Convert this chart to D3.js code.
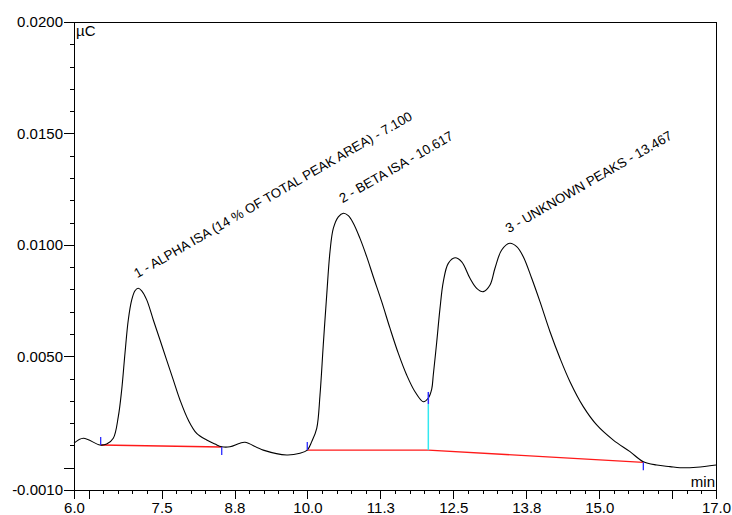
<!DOCTYPE html>
<html>
<head>
<meta charset="utf-8">
<script src="https://cdn.jsdelivr.net/npm/d3@7"></script>
<style>
  html, body { margin: 0; padding: 0; background: #fff; }
  svg { display: block; font-family: "Liberation Sans", Arial, sans-serif; }
</style>
</head>
<body>
<svg id="chart" width="732" height="515"></svg>
<script>
// Chromatogram trace: retention time (min) and detector signal (µC)
const traceTime = [6.000, 6.159, 6.445, 6.560, 6.673, 6.759, 6.817, 6.874, 6.930, 6.989, 7.045, 7.100,
  7.160, 7.246, 7.359, 7.474, 7.588, 7.701, 7.816, 7.958, 8.102, 8.274, 8.416, 8.531, 8.673, 8.844,
  8.930, 9.243, 9.644, 9.872, 9.997, 10.073, 10.159, 10.215, 10.271, 10.330, 10.386, 10.443, 10.529,
  10.617, 10.700, 10.786, 10.900, 11.015, 11.128, 11.272, 11.414, 11.557, 11.700, 11.843, 11.985,
  12.071, 12.129, 12.156, 12.215, 12.271, 12.328, 12.413, 12.528, 12.643, 12.785, 12.900, 13.013,
  13.128, 13.213, 13.328, 13.467, 13.585, 13.698, 13.842, 13.984, 14.156, 14.327, 14.498, 14.726,
  14.956, 15.241, 15.527, 15.755, 15.984, 16.212, 16.383, 16.669, 17.000];
const traceSignal = [0.00110, 0.00132, 0.00102, 0.00106, 0.00132, 0.00229, 0.00349, 0.00515, 0.00663,
  0.00753, 0.00794, 0.00805, 0.00794, 0.00753, 0.00663, 0.00573, 0.00483, 0.00394, 0.00304, 0.00214,
  0.00154, 0.00124, 0.00106, 0.00094, 0.00094, 0.00110, 0.00114, 0.00079, 0.00057, 0.00065, 0.00079,
  0.00117, 0.00177, 0.00326, 0.00551, 0.00775, 0.00969, 0.01074, 0.01126, 0.01142, 0.01131, 0.01097,
  0.01029, 0.00947, 0.00857, 0.00745, 0.00626, 0.00513, 0.00416, 0.00341, 0.00296, 0.00313, 0.00353,
  0.00416, 0.00564, 0.00715, 0.00835, 0.00917, 0.00942, 0.00924, 0.00850, 0.00805, 0.00790, 0.00820,
  0.00895, 0.00977, 0.01007, 0.00992, 0.00947, 0.00850, 0.00745, 0.00610, 0.00491, 0.00386, 0.00274,
  0.00192, 0.00124, 0.00072, 0.00027, 0.00012, 0.00005, 0.00000, 0.00002, 0.00012];

// Integration baselines (each a polyline of [time, signal])
const baselines = [
  [[6.457, 0.00102], [8.531, 0.00093]],
  [[9.997, 0.00079], [12.071, 0.00079], [15.755, 0.00024]]
];
// Peak start/end markers: time, signal, direction (1 = up, -1 = down)
const markerTime = [6.457, 8.531, 9.997, 15.755];
const markerSignal = [0.00102, 0.00093, 0.00079, 0.00024];
const markerDir = [1, -1, 1, -1];
// Valley drop between peak 2 and peak 3
const dropTime = 12.071;
const dropTop = 0.00313;
const dropBottom = 0.00079;

// Peak annotations
const peakNames = ["1 - ALPHA ISA (14 % OF TOTAL PEAK AREA) - 7.100", "2 - BETA ISA - 10.617", "3 - UNKNOWN PEAKS - 13.467"];
const peakTime = [7.100, 10.617, 13.467];
const peakSignal = [0.00805, 0.01142, 0.01007];

// Axis ticks
const xLabelTicks = [6.0, 7.5, 8.75, 10.0, 11.25, 12.5, 13.75, 15.0, 17.0];
const xMajorTicks = [6.0, 6.25, 7.5, 8.75, 10.0, 11.25, 12.5, 13.75, 15.0, 16.25, 17.0];
const yLabelTicks = [0.0200, 0.0150, 0.0100, 0.0050, -0.0010];
const yMajorTicks = [0.0200, 0.0150, 0.0100, 0.0050, 0.0000, -0.0010];

const svg = d3.select("#chart");
const plotLeft = 74, plotTop = 22, plotRight = 716, plotBottom = 490;

const x = d3.scaleLinear().domain([6, 17]).range([plotLeft, plotRight]);
const y = d3.scaleLinear().domain([-0.001, 0.02]).range([plotBottom, plotTop]);

// Frame: top and right borders
svg.append("path")
  .attr("d", `M${plotLeft},${plotTop + 0.5}H${plotRight + 0.5}V${plotBottom}`)
  .attr("fill", "none").attr("stroke", "#000").attr("stroke-width", 1)
  .attr("shape-rendering", "crispEdges");

// Y axis: minor ticks every 0.001, longer ticks every 0.005
const yMinor = d3.range(-10, 201, 10).map(d => d / 10000);
svg.append("g").attr("transform", `translate(${plotLeft},0)`)
  .call(d3.axisLeft(y).tickValues(yMinor).tickSize(4).tickFormat(""));
svg.append("g").attr("transform", `translate(${plotLeft},0)`)
  .call(d3.axisLeft(y).tickValues(yMajorTicks).tickSize(10).tickFormat(""));
svg.append("g").attr("transform", `translate(${plotLeft},0)`)
  .call(d3.axisLeft(y).tickValues(yLabelTicks).tickSize(0).tickPadding(11)
    .tickFormat(d => d.toFixed(4)))
  .call(g => g.select(".domain").remove())
  .selectAll("text").attr("font-size", 15).attr("fill", "#000")
  .attr("font-family", "Liberation Sans, Arial, sans-serif");

// X axis: minor ticks every 0.25 min, longer ticks every 1.25 min
const xMinor = d3.range(0, 45).map(i => 6 + i * 0.25);
svg.append("g").attr("transform", `translate(0,${plotBottom})`)
  .call(d3.axisBottom(x).tickValues(xMinor).tickSize(4).tickFormat(""));
svg.append("g").attr("transform", `translate(0,${plotBottom})`)
  .call(d3.axisBottom(x).tickValues(xMajorTicks).tickSize(9).tickFormat(""));
svg.append("g").attr("transform", `translate(0,${plotBottom})`)
  .call(d3.axisBottom(x).tickValues(xLabelTicks).tickSize(0).tickPadding(12)
    .tickFormat(d3.format(".1f")))
  .call(g => g.select(".domain").remove())
  .selectAll("text").attr("font-size", 15).attr("fill", "#000")
  .attr("font-family", "Liberation Sans, Arial, sans-serif");

svg.selectAll(".domain, .tick line").attr("stroke", "#000").attr("shape-rendering", "crispEdges");

// Unit labels
svg.append("text").attr("x", plotLeft + 2).attr("y", plotTop + 14)
  .attr("font-size", 15).text("µC");
svg.append("text").attr("x", plotRight - 1).attr("y", plotBottom - 3)
  .attr("font-size", 15).attr("text-anchor", "end").text("min");

// Baselines
const lineGen = d3.line().x(d => x(d[0])).y(d => y(d[1]));
svg.selectAll(".baseline").data(baselines).join("path")
  .attr("class", "baseline")
  .attr("d", lineGen)
  .attr("fill", "none").attr("stroke", "#ff1a1a").attr("stroke-width", 1.3);

// Valley drop line
svg.append("line")
  .attr("x1", x(dropTime)).attr("x2", x(dropTime))
  .attr("y1", y(dropTop) + 6).attr("y2", y(dropBottom))
  .attr("stroke", "#33e8f0").attr("stroke-width", 1.5);

// Chromatogram trace
const trace = traceTime.map((t, i) => [t, traceSignal[i]]);
svg.append("path")
  .datum(trace)
  .attr("d", d3.line().x(d => x(d[0])).y(d => y(d[1])).curve(d3.curveCatmullRom.alpha(0.5)))
  .attr("fill", "none").attr("stroke", "#000").attr("stroke-width", 1.1);

// Peak start / end markers
markerTime.forEach((t, i) => {
  const px = x(t), py = y(markerSignal[i]);
  svg.append("line")
    .attr("x1", px).attr("x2", px)
    .attr("y1", py).attr("y2", py - markerDir[i] * 8)
    .attr("stroke", "#2a2aff").attr("stroke-width", 1.3);
});
svg.append("line")
  .attr("x1", x(dropTime)).attr("x2", x(dropTime))
  .attr("y1", y(dropTop) - 6).attr("y2", y(dropTop) + 6)
  .attr("stroke", "#2a2aff").attr("stroke-width", 1.5);

// Peak labels, drawn at a slant above each apex
peakNames.forEach((name, i) => {
  const px = x(peakTime[i]) - 1, py = y(peakSignal[i]) - 10;
  svg.append("text")
    .attr("transform", `translate(${px},${py}) rotate(-30)`)
    .attr("font-size", 13.3)
    .text(name);
});
</script>
</body>
</html>
